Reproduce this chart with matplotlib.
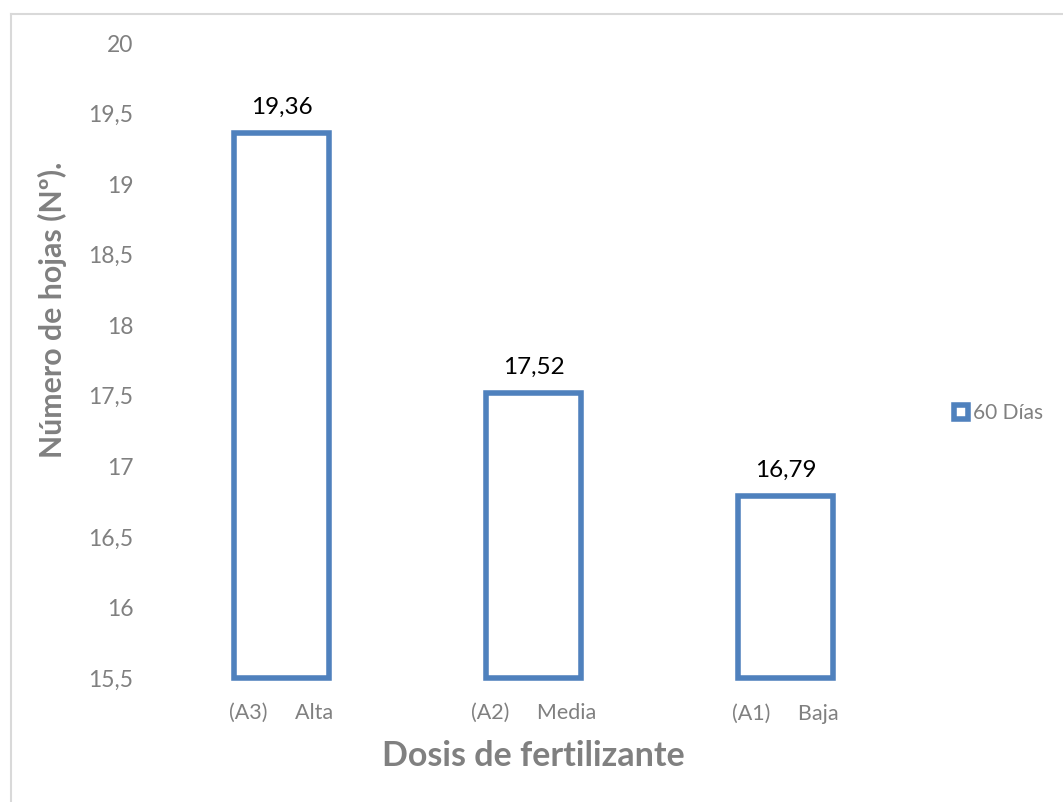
# number of leaves by fertilizer dose, 60 days

import numpy as np
import matplotlib.pyplot as plt
from matplotlib.lines import Line2D

# data
categories = ['(A3)     Alta', '(A2)     Media', '(A1)     Baja']
values = [19.36, 17.52, 16.79]
value_labels = ['19,36', '17,52', '16,79']
y_ticks = [15.5, 16, 16.5, 17, 17.5, 18, 18.5, 19, 19.5, 20]
y_tick_labels = ['15,5', '16', '16,5', '17', '17,5', '18', '18,5', '19', '19,5', '20']
series_name = '60 Días'

blue = '#4F81BD'
gray = '#808080'
plt.rcParams['font.family'] = ['Lato', 'DejaVu Sans']

fig = plt.figure(figsize=(10.63, 8.02), dpi=100)
ax = fig.add_axes([155.5 / 1063, 1 - 678 / 802, (911.5 - 155.5) / 1063, (678 - 43) / 802])

# chart border (top and left visible)
fig.add_artist(Line2D([10.5 / 1063, 10.5 / 1063], [0, 1 - 13.5 / 802], transform=fig.transFigure,
                      color='#d9d9d9', lw=1.5))
fig.add_artist(Line2D([10.5 / 1063, 1], [1 - 13.5 / 802, 1 - 13.5 / 802], transform=fig.transFigure,
                      color='#d9d9d9', lw=1.5))

x = np.arange(len(categories))
base = 15.5
bars = ax.bar(x, np.array(values) - base, bottom=base, width=0.377,
              facecolor='white', edgecolor=blue, linewidth=4.0, clip_on=False)
for xi, v, lab in zip(x, values, value_labels):
    ax.text(xi, v + 0.11, lab, ha='center', va='bottom', fontsize=17.5, color='black')

ax.set_xlim(-0.5, len(categories) - 0.5)
ax.set_ylim(15.5, 20)
ax.set_yticks(y_ticks)
ax.set_yticklabels(y_tick_labels)
ax.set_xticks(x)
ax.set_xticklabels(categories)
ax.tick_params(axis='y', length=0, pad=16, labelsize=16.5, labelcolor=gray)
ax.tick_params(axis='x', length=0, pad=18, labelsize=15.5, labelcolor=gray)
for s in ax.spines.values():
    s.set_visible(False)

ax.set_xlabel('Dosis de fertilizante', fontsize=24.5, fontweight='bold', color=gray, labelpad=12)
ax.set_ylabel('Número de hojas (Nº).', fontsize=21.8, fontweight='bold', color=gray)
ax.yaxis.set_label_coords((67 - 155.5) / 756, (678 - 310) / 635)

handle = Line2D([], [], linestyle='none', marker='s', markersize=9.5, markeredgewidth=4.0,
                markerfacecolor='white', markeredgecolor=blue)
fig.legend([handle], [series_name], loc='center left', bbox_to_anchor=(943 / 1063, 1 - 413 / 802),
           frameon=False, fontsize=15, labelcolor=gray, handlelength=0.9,
           handletextpad=0.15, borderaxespad=0)

fig.savefig('out.png', dpi=100)
